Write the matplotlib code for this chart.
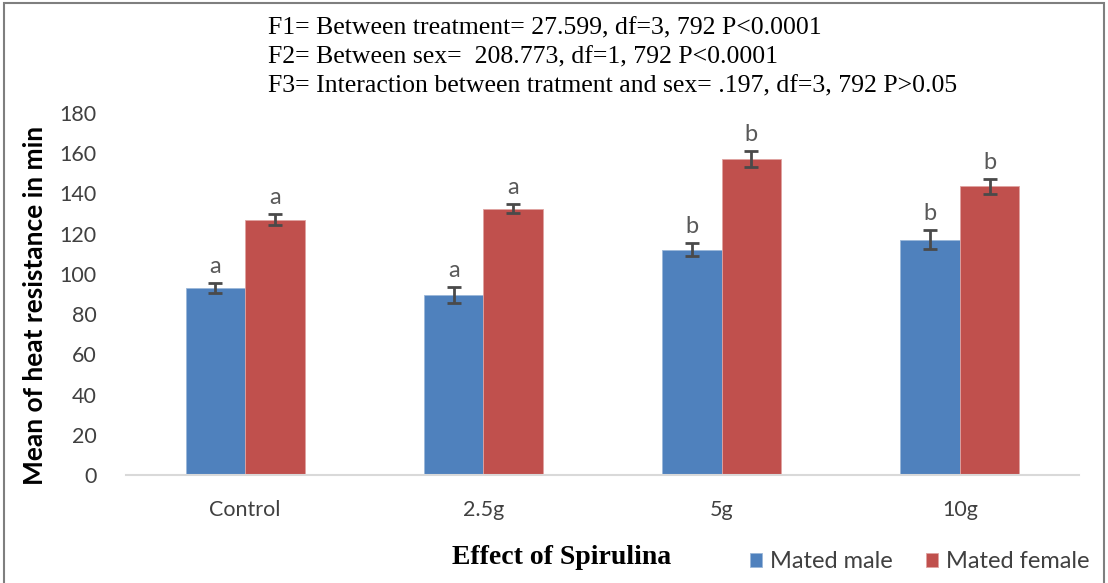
import matplotlib.pyplot as plt
import numpy as np
from matplotlib.patches import Rectangle

categories = ['Control', '2.5g', '5g', '10g']
male = [93, 89.5, 112, 117]
female = [127, 132.5, 157, 143.5]
male_err = [2.5, 3.8, 3.3, 4.8]
female_err = [2.8, 2.3, 4.0, 3.9]
male_letters = ['a', 'a', 'b', 'b']
female_letters = ['a', 'a', 'b', 'b']
stats_lines = [
    'F1= Between treatment= 27.599, df=3, 792 P<0.0001',
    'F2= Between sex=  208.773, df=1, 792 P<0.0001',
    'F3= Interaction between tratment and sex= .197, df=3, 792 P>0.05',
]

blue = '#4f81bd'
red = '#c0504d'
gray = '#595959'

plt.rcParams['font.family'] = ['Lato', 'DejaVu Sans']

fig = plt.figure(figsize=(11.08, 5.83), dpi=100)
ax = fig.add_axes([126 / 1108, 1 - 475 / 583, (1079 - 126) / 1108, 362 / 583])

x = np.arange(len(categories))
w = 0.25
ax.bar(x - w / 2, male, w, color=blue, edgecolor='#9bb7d9', linewidth=0.6, label='Mated male')
ax.bar(x + w / 2, female, w, color=red, edgecolor='#e0a3a1', linewidth=0.6, label='Mated female')
ax.errorbar(x - w / 2, male, yerr=male_err, fmt='none', ecolor='#4a4a4a', elinewidth=2, capsize=5, capthick=2)
ax.errorbar(x + w / 2, female, yerr=female_err, fmt='none', ecolor='#4a4a4a', elinewidth=2, capsize=5, capthick=2)

for i in range(len(categories)):
    ax.text(x[i] - w / 2, male[i] + male_err[i] + 3, male_letters[i], ha='center', va='bottom',
            fontsize=17, color=gray)
    ax.text(x[i] + w / 2, female[i] + female_err[i] + 3, female_letters[i], ha='center', va='bottom',
            fontsize=17, color=gray)

ax.set_xlim(-0.5, 3.5)
ax.set_ylim(0, 180)
ax.set_yticks(range(0, 181, 20))
ax.set_xticks(x)
ax.set_xticklabels(categories)
ax.tick_params(axis='both', length=0, labelsize=15.5, colors='#404040')
ax.tick_params(axis='y', pad=21)
ax.tick_params(axis='x', pad=18)
for s in ['top', 'right', 'left']:
    ax.spines[s].set_visible(False)
ax.spines['bottom'].set_color('#d9d9d9')
ax.spines['bottom'].set_linewidth(1.5)

fig.text(35 / 1108, 1 - 305 / 583, 'Mean of heat resistance in min', rotation=90, ha='center', va='center',
         fontsize=19, fontweight='bold', color='black')
fig.text(562 / 1108, 1 - 558 / 583, 'Effect of Spirulina', ha='center', va='center',
         fontsize=20, fontweight='bold', family='Liberation Serif')

for i, line in enumerate(stats_lines):
    fig.text(268 / 1108, 1 - (28 + 29 * i) / 583, line, ha='left', va='center',
             fontsize=18.5, family='Liberation Serif')

fig.legend(loc='center left', bbox_to_anchor=(750 / 1108, 1 - 562 / 583), ncol=2, frameon=False,
           borderpad=0, borderaxespad=0,
           fontsize=17, handlelength=0.5, handleheight=0.5, handletextpad=0.35, columnspacing=1.4,
           labelcolor='#404040')

fig.patches.append(Rectangle((4 / 1108, -0.01), 1100 / 1108, 1 - 3 / 583 + 0.01, transform=fig.transFigure,
                             fill=False, edgecolor='#7f7f7f', linewidth=1.5))

fig.savefig('out.png', dpi=100)
